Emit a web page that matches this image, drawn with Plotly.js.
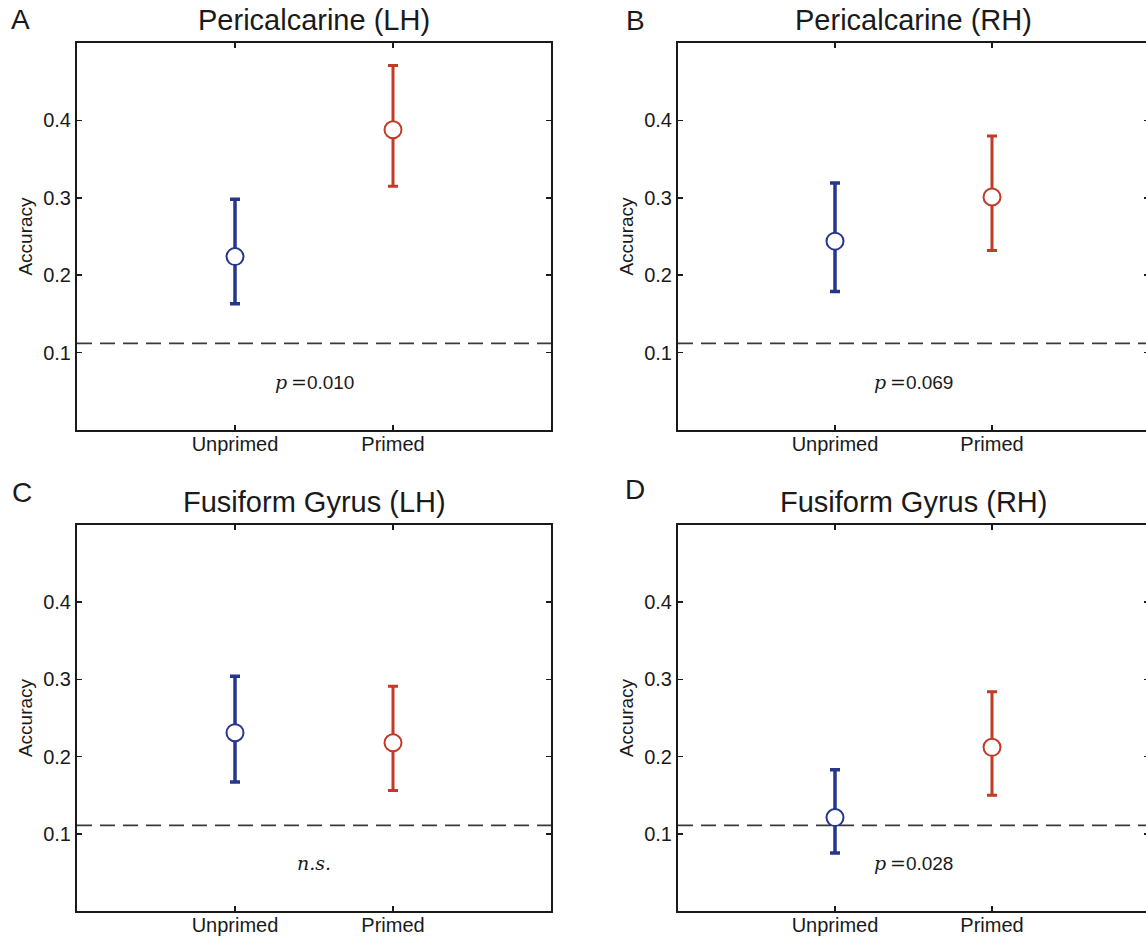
<!DOCTYPE html>
<html>
<head>
<meta charset="utf-8">
<script src="https://cdn.plot.ly/plotly-3.0.1.min.js"></script>
<style>
  html, body { margin: 0; padding: 0; overflow: hidden; background: #fff; }
  #chart { width: 1152px; height: 938px; }
</style>
</head>
<body>
<div id="chart"></div>
<script>
// ---- data ----
const categories = ['Unprimed', 'Primed'];
const panelTitles = ['Pericalcarine (LH)', 'Pericalcarine (RH)', 'Fusiform Gyrus (LH)', 'Fusiform Gyrus (RH)'];
const panelLetters = ['A', 'B', 'C', 'D'];
const meanUnprimed  = [0.224, 0.244, 0.231, 0.121];
const upperUnprimed = [0.298, 0.319, 0.304, 0.183];
const lowerUnprimed = [0.163, 0.179, 0.167, 0.075];
const meanPrimed    = [0.388, 0.301, 0.218, 0.212];
const upperPrimed   = [0.471, 0.380, 0.291, 0.284];
const lowerPrimed   = [0.315, 0.232, 0.156, 0.150];
const chanceLevel   = [0.112, 0.112, 0.111, 0.111];
const pValues       = ['0.010', '0.069', null, '0.028'];
const yTickVals     = [0.1, 0.2, 0.3, 0.4];

// ---- geometry (pixels) ----
const W = 1152, H = 938;
const colsPx = [[77, 551], [678, 1149]];
const rowsPx = [[43, 430], [525, 911]];
const letterPos = [[20, 20], [635, 21], [22, 492], [635, 490]];

const BLUE = '#26368a', RED = '#c13b27', INK = '#1a1a1a';
const SANS = 'Arial, "Liberation Sans", sans-serif';
const SERIF = "'DejaVu Serif', 'Liberation Serif', serif";

const traces = [];
const layout = {
  width: W, height: H,
  margin: {l: 0, r: 0, t: 0, b: 0},
  paper_bgcolor: '#fff', plot_bgcolor: '#fff',
  showlegend: false,
  font: {family: SANS, color: INK},
  annotations: []
};

for (let i = 0; i < 4; i++) {
  const col = i % 2, row = Math.floor(i / 2);
  const sfx = i === 0 ? '' : String(i + 1);
  const xa = 'x' + sfx, ya = 'y' + sfx;

  layout['xaxis' + sfx] = {
    domain: [colsPx[col][0] / W, colsPx[col][1] / W],
    anchor: ya,
    range: [0, 3],
    tickvals: [1, 2],
    ticktext: categories,
    ticks: 'inside', ticklen: 5, tickwidth: 1.5, tickcolor: INK,
    showline: true, linewidth: 2, linecolor: INK, mirror: 'ticks',
    showgrid: false, zeroline: false,
    ticklabelstandoff: -5,
    tickfont: {family: SANS, size: 20, color: INK},
    fixedrange: true
  };
  layout['yaxis' + sfx] = {
    domain: [1 - rowsPx[row][1] / H, 1 - rowsPx[row][0] / H],
    anchor: xa,
    range: [0, 0.5],
    tickvals: yTickVals,
    tickformat: '.1f',
    ticks: 'inside', ticklen: 5, tickwidth: 1.5, tickcolor: INK,
    showline: true, linewidth: 2, linecolor: INK, mirror: 'ticks',
    showgrid: false, zeroline: false,
    tickfont: {family: SANS, size: 20, color: INK},
    title: {text: 'Accuracy', font: {family: SANS, size: 19, color: INK}, standoff: 6},
    fixedrange: true
  };

  // chance level
  traces.push({
    type: 'scatter', mode: 'lines', xaxis: xa, yaxis: ya,
    x: [0, 3], y: [chanceLevel[i], chanceLevel[i]],
    line: {color: '#3a3a3a', width: 1.8, dash: '15px,8px'},
    hoverinfo: 'skip'
  });
  // unprimed
  traces.push({
    type: 'scatter', mode: 'markers', xaxis: xa, yaxis: ya,
    x: [1], y: [meanUnprimed[i]],
    marker: {symbol: 'circle', size: 17, color: '#fff', line: {color: BLUE, width: 2}},
    error_y: {type: 'data', symmetric: false,
      array: [upperUnprimed[i] - meanUnprimed[i]],
      arrayminus: [meanUnprimed[i] - lowerUnprimed[i]],
      color: BLUE, thickness: 3.5, width: 5}
  });
  // primed
  traces.push({
    type: 'scatter', mode: 'markers', xaxis: xa, yaxis: ya,
    x: [2], y: [meanPrimed[i]],
    marker: {symbol: 'circle', size: 17, color: '#fff', line: {color: RED, width: 2}},
    error_y: {type: 'data', symmetric: false,
      array: [upperPrimed[i] - meanPrimed[i]],
      arrayminus: [meanPrimed[i] - lowerPrimed[i]],
      color: RED, thickness: 3, width: 5}
  });

  // panel title
  layout.annotations.push({
    xref: xa + ' domain', yref: ya + ' domain', x: 0.5, y: 1,
    xanchor: 'center', yanchor: 'bottom', yshift: 5,
    text: panelTitles[i], showarrow: false,
    font: {family: SANS, size: 29, color: INK}
  });
  // panel letter
  layout.annotations.push({
    xref: 'paper', yref: 'paper',
    x: letterPos[i][0] / W, y: 1 - letterPos[i][1] / H,
    xanchor: 'center', yanchor: 'middle',
    text: panelLetters[i], showarrow: false,
    font: {family: SANS, size: 28, color: INK}
  });
  // significance label
  const sig = pValues[i] === null
    ? '<span style="font-family:' + SERIF + ';font-style:italic">n.s.</span>'
    : '<span style="font-family:' + SERIF + ';font-style:italic">p</span>' +
      '<span style="font-family:' + SERIF + '">\u2009=</span>' + pValues[i];
  layout.annotations.push({
    xref: xa, yref: ya, x: 1.5, y: 0.062,
    xanchor: 'center', yanchor: 'middle',
    text: sig, showarrow: false,
    font: {family: SANS, size: 19, color: INK}
  });
}

Plotly.newPlot('chart', traces, layout, {displayModeBar: false, staticPlot: true});
</script>
</body>
</html>
